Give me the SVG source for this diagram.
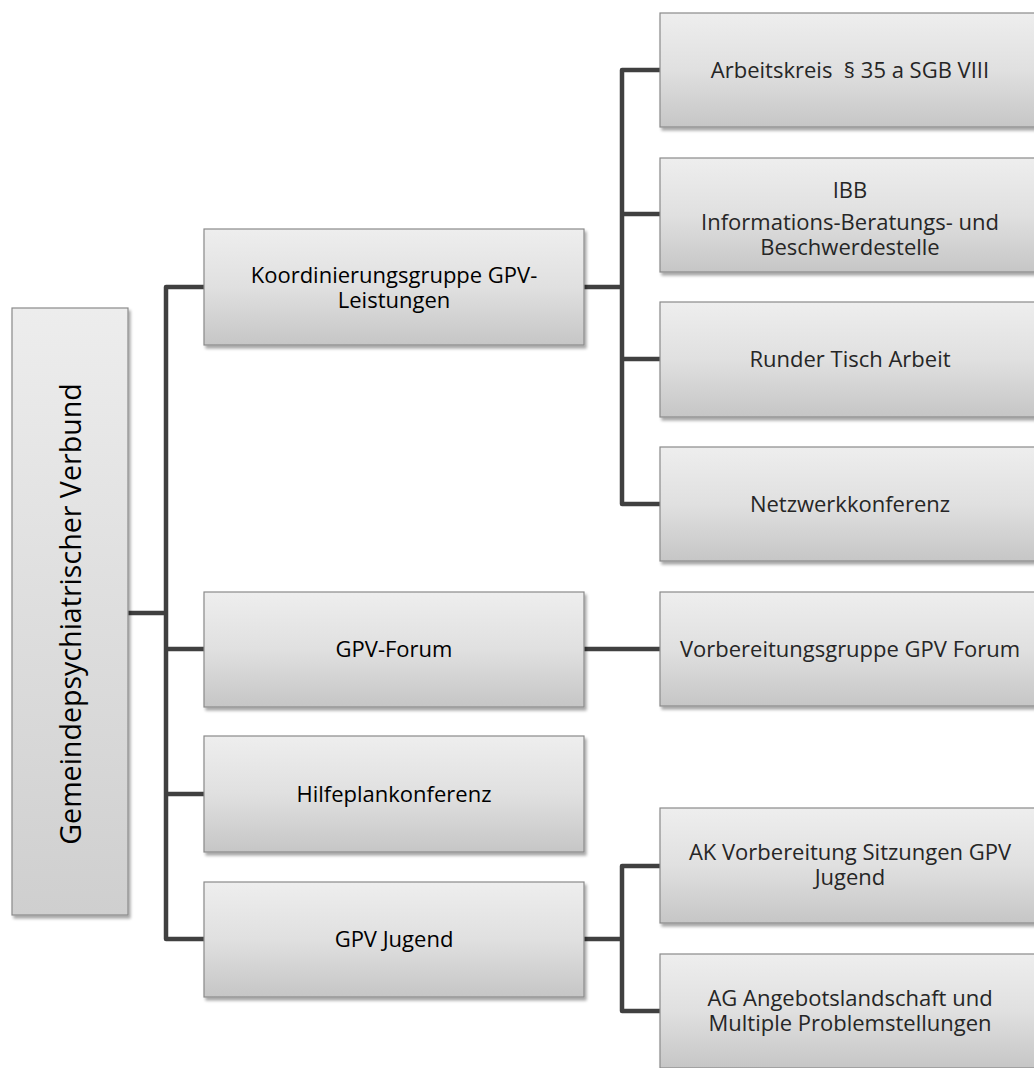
<svg xmlns="http://www.w3.org/2000/svg" width="1034" height="1068" viewBox="0 0 1034 1068">
<defs>
<linearGradient id="g" x1="0" y1="0" x2="0" y2="1">
<stop offset="0" stop-color="#eeeeee"/>
<stop offset="0.5" stop-color="#e0e0e0"/>
<stop offset="1" stop-color="#c6c6c6"/>
</linearGradient>
<linearGradient id="gr" x1="0" y1="0" x2="0" y2="1">
<stop offset="0" stop-color="#ededed"/>
<stop offset="1" stop-color="#cfcfcf"/>
</linearGradient>
<filter id="sh" x="-5%" y="-5%" width="115%" height="120%">
<feGaussianBlur in="SourceAlpha" stdDeviation="1.8"/>
<feOffset dx="1.5" dy="3" result="b"/>
<feComponentTransfer><feFuncA type="linear" slope="0.35"/></feComponentTransfer>
<feMerge><feMergeNode/><feMergeNode in="SourceGraphic"/></feMerge>
</filter>
</defs>
<style>
.box{fill:url(#g);stroke:#8a8a8a;stroke-width:1.2;filter:url(#sh)}
.root{fill:url(#gr);stroke:#8a8a8a;stroke-width:1.2;filter:url(#sh)}
.t1{font-family:"Open Sans","Noto Sans",sans-serif;font-size:22px;font-weight:500;fill:#000;text-anchor:middle}
.t2{font-family:"Open Sans","Noto Sans",sans-serif;font-size:22px;fill:#262626;text-anchor:middle}
.t0{font-family:"Open Sans","Noto Sans",sans-serif;font-size:28.6px;fill:#000;text-anchor:middle}
.c{fill:none;stroke:#404040;stroke-width:4.5;stroke-linejoin:round}
</style>
<rect width="1034" height="1068" fill="#fff"/>
<g id="connectors">
<path class="c" d="M128,613 H166"/>
<path class="c" d="M204,287 H166 V939 H204"/>
<path class="c" d="M166,649 H204"/>
<path class="c" d="M166,794 H204"/>
<path class="c" d="M584,287 H622"/>
<path class="c" d="M660,70 H622 V504 H660"/>
<path class="c" d="M622,214 H660"/>
<path class="c" d="M622,359 H660"/>
<path class="c" d="M584,649 H660"/>
<path class="c" d="M584,939 H622"/>
<path class="c" d="M660,866 H622 V1011 H660"/>
</g>
<g id="root">
<rect class="root" x="12" y="308" width="116" height="607"/>
<text class="t0" transform="translate(81,614) rotate(-90)">Gemeindepsychiatrischer Verbund</text>
</g>
<g id="koord">
<rect class="box" x="204" y="229" width="380" height="116"/>
<text class="t1" x="394" y="283">Koordinierungsgruppe GPV-</text>
<text class="t1" x="394" y="308">Leistungen</text>
</g>
<g id="forum">
<rect class="box" x="204" y="592" width="380" height="115"/>
<text class="t1" x="394" y="657">GPV-Forum</text>
</g>
<g id="hilfe">
<rect class="box" x="204" y="736" width="380" height="116"/>
<text class="t1" x="394" y="802">Hilfeplankonferenz</text>
</g>
<g id="jugend">
<rect class="box" x="204" y="882" width="380" height="115"/>
<text class="t1" x="394" y="947">GPV Jugend</text>
</g>
<g id="arbeitskreis">
<rect class="box" x="660" y="13" width="380" height="114"/>
<text class="t2" x="850" y="78" xml:space="preserve">Arbeitskreis  § 35 a SGB VIII</text>
</g>
<g id="ibb">
<rect class="box" x="660" y="158" width="380" height="114"/>
<text class="t2" x="850" y="198">IBB</text>
<text class="t2" x="850" y="230">Informations-Beratungs- und</text>
<text class="t2" x="850" y="255">Beschwerdestelle</text>
</g>
<g id="runder">
<rect class="box" x="660" y="302" width="380" height="115"/>
<text class="t2" x="850" y="367">Runder Tisch Arbeit</text>
</g>
<g id="netzwerk">
<rect class="box" x="660" y="447" width="380" height="114"/>
<text class="t2" x="850" y="512">Netzwerkkonferenz</text>
</g>
<g id="vorbereitung">
<rect class="box" x="660" y="592" width="380" height="114"/>
<text class="t2" x="850" y="657">Vorbereitungsgruppe GPV Forum</text>
</g>
<g id="ak">
<rect class="box" x="660" y="808" width="380" height="115"/>
<text class="t2" x="850" y="860">AK Vorbereitung Sitzungen GPV</text>
<text class="t2" x="850" y="885">Jugend</text>
</g>
<g id="ag">
<rect class="box" x="660" y="954" width="380" height="114"/>
<text class="t2" x="850" y="1006">AG Angebotslandschaft und</text>
<text class="t2" x="850" y="1031">Multiple Problemstellungen</text>
</g>
</svg>
